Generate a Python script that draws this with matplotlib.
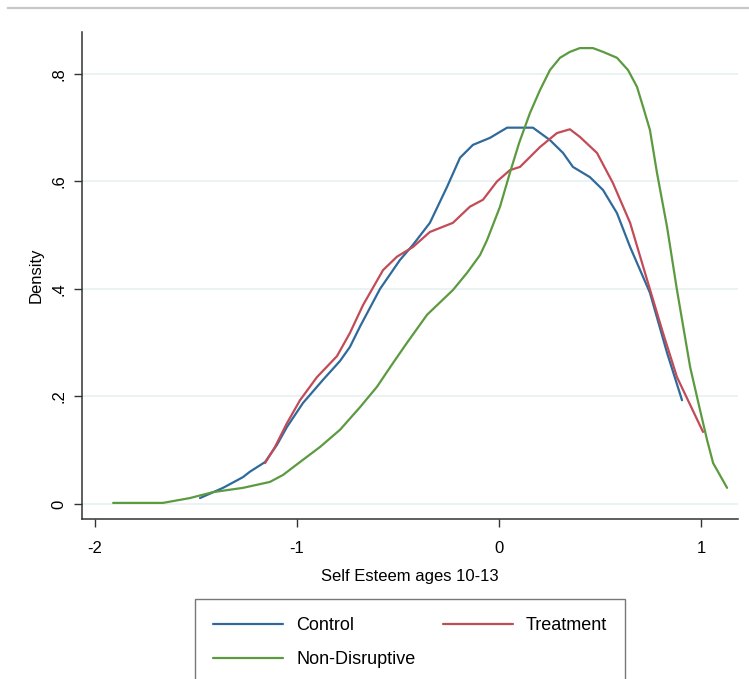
import matplotlib.pyplot as plt
from matplotlib.lines import Line2D

plt.rcParams['font.family'] = ['Liberation Sans', 'DejaVu Sans']

# ---------------------------------------------------------------------
# kernel density curves
# ---------------------------------------------------------------------
control_x = [-1.48, -1.366, -1.267, -1.233, -1.158, -1.099, -1.05, -0.97, -0.871,
             -0.787, -0.738, -0.688, -0.589, -0.49, -0.426, -0.342, -0.257, -0.193,
             -0.129, -0.045, 0.04, 0.168, 0.252, 0.317, 0.366, 0.45, 0.515, 0.584,
             0.649, 0.747, 0.832, 0.906]
control_y = [0.011, 0.03, 0.05, 0.06, 0.078, 0.11, 0.143, 0.188, 0.231,
             0.266, 0.292, 0.33, 0.40, 0.454, 0.482, 0.523, 0.59, 0.644,
             0.668, 0.681, 0.70, 0.70, 0.677, 0.653, 0.627, 0.608, 0.584, 0.541,
             0.478, 0.393, 0.281, 0.193]

treat_x = [-1.158, -1.109, -1.05, -0.985, -0.901, -0.802, -0.738, -0.673, -0.574,
           -0.505, -0.426, -0.342, -0.228, -0.144, -0.079, -0.01, 0.054, 0.104,
           0.203, 0.287, 0.351, 0.40, 0.485, 0.564, 0.649, 0.733, 0.812, 0.881,
           1.01]
treat_y = [0.076, 0.106, 0.15, 0.193, 0.236, 0.275, 0.318, 0.37, 0.435,
           0.46, 0.478, 0.506, 0.523, 0.553, 0.566, 0.60, 0.621, 0.627,
           0.664, 0.69, 0.697, 0.683, 0.653, 0.597, 0.523, 0.417, 0.318, 0.236,
           0.134]

nondis_x = [-1.91, -1.663, -1.53, -1.416, -1.267, -1.134, -1.069, -0.985, -0.886,
            -0.787, -0.688, -0.604, -0.525, -0.455, -0.356, -0.228, -0.158, -0.094,
            -0.059, 0.005, 0.054, 0.10, 0.153, 0.203, 0.252, 0.302, 0.351, 0.40,
            0.465, 0.515, 0.584, 0.639, 0.683, 0.713, 0.747, 0.782, 0.832, 0.881,
            0.946, 0.995, 1.03, 1.06, 1.129]
nondis_y = [0.002, 0.002, 0.011, 0.022, 0.03, 0.041, 0.054, 0.078, 0.106,
            0.138, 0.18, 0.218, 0.262, 0.30, 0.352, 0.398, 0.43, 0.463,
            0.491, 0.553, 0.616, 0.672, 0.727, 0.77, 0.807, 0.83, 0.841, 0.848,
            0.848, 0.841, 0.83, 0.807, 0.776, 0.739, 0.696, 0.616, 0.515, 0.398,
            0.255, 0.175, 0.119, 0.076, 0.03]

series_names = ["Control", "Treatment", "Non-Disruptive"]
series_colors = ["#2f6a9b", "#c24b57", "#5c9a40"]

xticks = [-2, -1, 0, 1]
xtick_labels = ["-2", "-1", "0", "1"]
yticks = [0, 0.2, 0.4, 0.6, 0.8]
ytick_labels = ["0", ".2", ".4", ".6", ".8"]

# ---------------------------------------------------------------------
# figure
# ---------------------------------------------------------------------
fig = plt.figure(figsize=(7.49, 6.79), dpi=100)
ax = fig.add_axes([0.1095, 0.2356, 0.8758, 0.7173])

# top grey border line
fig.add_artist(Line2D([8 / 749, 1], [1 - 8 / 679, 1 - 8 / 679],
                      color="#c8c8c8", lw=1.6, transform=fig.transFigure))

for yv in yticks:
    ax.axhline(yv, color="#eaf2f2", lw=1.4, zorder=0)

data = [(control_x, control_y), (treat_x, treat_y), (nondis_x, nondis_y)]
handles = []
for (xs, ys), name, col in zip(data, series_names, series_colors):
    h, = ax.plot(xs, ys, color=col, lw=1.6, label=name,
                 solid_joinstyle="round", solid_capstyle="round")
    handles.append(h)

ax.set_xlim(-2.064, 1.183)
ax.set_ylim(-0.028, 0.878)
ax.set_xticks(xticks)
ax.set_xticklabels(xtick_labels)
ax.set_yticks(yticks)
ax.set_yticklabels(ytick_labels, rotation=90, va="center")

for s in ["top", "right"]:
    ax.spines[s].set_visible(False)
for s in ["left", "bottom"]:
    ax.spines[s].set_color("#333333")
    ax.spines[s].set_linewidth(1.1)
ax.tick_params(direction="out", length=6, width=1.0, color="#333333",
               labelsize=12)
ax.tick_params(axis="x", pad=10)
ax.tick_params(axis="y", pad=5)

ax.set_xlabel("Self Esteem ages 10-13", fontsize=12, labelpad=9)
ax.set_ylabel("Density", fontsize=12, labelpad=6)

# legend: Control / Treatment on first row, Non-Disruptive on second
leg = fig.legend([handles[0], handles[2], handles[1]],
                 [series_names[0], series_names[2], series_names[1]],
                 ncol=2, loc="upper left", mode="expand",
                 bbox_to_anchor=(195 / 749, 1 - 599 / 679, 430 / 749, 0.0),
                 fontsize=13, frameon=True, fancybox=False, edgecolor="#555555",
                 handlelength=3.9, handletextpad=0.7, borderpad=1.0,
                 labelspacing=0.95, borderaxespad=0)
leg.get_frame().set_linewidth(1.0)

fig.savefig("out.png", dpi=100)
